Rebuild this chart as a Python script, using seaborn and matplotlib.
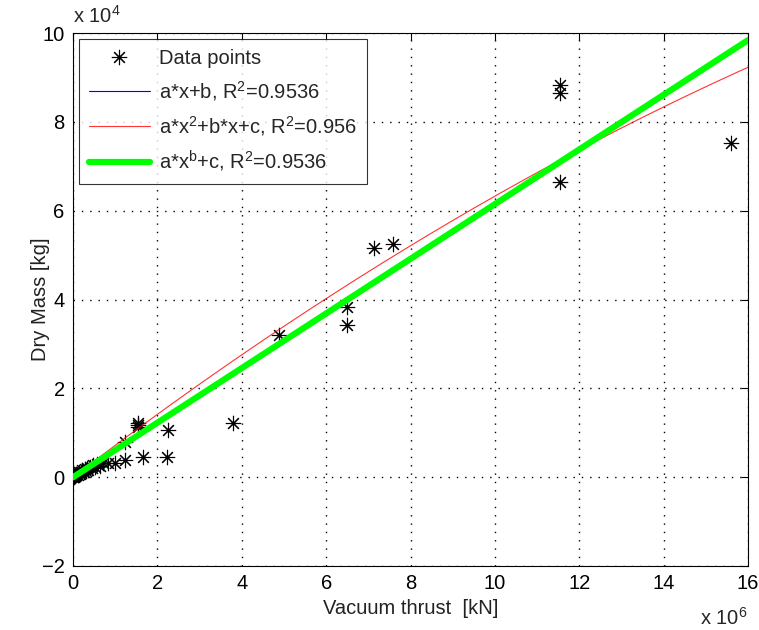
import numpy as np
import pandas as pd
import matplotlib
matplotlib.use("Agg")
import matplotlib.pyplot as plt
import seaborn as sns
from matplotlib.ticker import FixedLocator, FuncFormatter

# ---- data (vacuum thrust in N, dry mass in kg) ----
thrust = np.array([
    0.01, 0.02, 0.03, 0.04, 0.05, 0.06, 0.08, 0.10, 0.12, 0.14, 0.16, 0.18,
    0.20, 0.22, 0.25, 0.28, 0.30, 0.33, 0.36, 0.40, 0.44, 0.48, 0.52, 0.58,
    0.64, 0.70, 0.83, 1.00, 1.23, 1.23, 1.54, 1.54, 1.54, 1.66, 2.23, 2.25,
    3.79, 4.88, 6.49, 6.49, 7.13, 7.58, 11.54, 11.54, 11.54, 15.60]) * 1e6
drymass = np.array([
    0.00, 0.03, 0.01, 0.05, 0.02, 0.06, 0.04, 0.08, 0.05, 0.11, 0.07, 0.12,
    0.10, 0.15, 0.12, 0.18, 0.14, 0.20, 0.17, 0.24, 0.20, 0.27, 0.24, 0.30,
    0.26, 0.32, 0.32, 0.32, 0.38, 0.79, 1.22, 1.17, 1.12, 0.45, 0.45, 1.06,
    1.22, 3.20, 3.83, 3.42, 5.16, 5.25, 8.83, 8.65, 6.64, 7.52]) * 1e4

# fit coefficients
lin_coef = [6.13e-3, -50.0]                 # a*x+b
quad_coef = [-9.33e-11, 7.26e-3, 0.0]       # a*x^2+b*x+c
pow_coef = [6.05e-3, 1.001, -20.0]          # a*x^b+c

x_ticks = [0, 2, 4, 6, 8, 10, 12, 14, 16]
y_ticks = [-2, 0, 2, 4, 6, 8, 10]

labels = ["Data points",
          r"a*x+b, R$^2$=0.9536",
          r"a*x$^2$+b*x+c, R$^2$=0.956",
          r"a*x$^b$+c, R$^2$=0.9536"]

sns.set_style("white")
plt.rcParams["font.family"] = ["Liberation Sans", "DejaVu Sans"]
plt.rcParams["mathtext.fontset"] = "custom"
plt.rcParams["mathtext.rm"] = "Liberation Sans"
plt.rcParams["mathtext.it"] = "Liberation Sans"

FS = 14.5

fig = plt.figure(figsize=(7.59, 6.30), dpi=100)
ax = fig.add_axes([0.0962, 0.1016, 0.8893, 0.8460])

xs = np.linspace(0, 16e6, 400)
fits = pd.DataFrame({
    "x": xs,
    "lin": np.polyval(lin_coef, xs),
    "quad": np.polyval(quad_coef, xs),
    "pow": pow_coef[0] * xs ** pow_coef[1] + pow_coef[2],
})
pts = pd.DataFrame({"thrust": thrust, "drymass": drymass})

ax.plot(pts["thrust"], pts["drymass"], linestyle="none", marker=(8, 2, 0),
        markersize=11, markeredgewidth=0.8, color="black", label=labels[0], zorder=3)
sns.lineplot(data=fits, x="x", y="lin", ax=ax, color="#0000ff", linewidth=0.8,
             label=labels[1], zorder=4)
sns.lineplot(data=fits, x="x", y="quad", ax=ax, color="#ff0000", linewidth=0.8,
             alpha=0.8, label=labels[2], zorder=4)
sns.lineplot(data=fits, x="x", y="pow", ax=ax, color="#00ff00", linewidth=4.5,
             label=labels[3], zorder=5)

ax.set_xlim(0, 16e6)
ax.set_ylim(-2e4, 10e4)
ax.xaxis.set_major_locator(FixedLocator([t * 1e6 for t in x_ticks]))
ax.yaxis.set_major_locator(FixedLocator([t * 1e4 for t in y_ticks]))
ax.xaxis.set_major_formatter(FuncFormatter(lambda v, p: f"{v / 1e6:g}"))
ax.yaxis.set_major_formatter(FuncFormatter(lambda v, p: f"{v / 1e4:g}".replace("-", "\u2212")))

ax.grid(True, color="black", linestyle=(0, (1, 5)), linewidth=1.0)
for s in ax.spines.values():
    s.set_color("black")
    s.set_linewidth(0.8)
ax.tick_params(direction="in", length=5, width=0.8, top=True, right=True,
               labelsize=FS, pad=6, colors="black")

ax.set_xlabel("Vacuum thrust  [kN]", fontsize=FS, color="#222222")
ax.set_ylabel("Dry Mass [kg]", fontsize=FS, color="#222222")
ax.yaxis.set_label_coords(-0.034, 0.5)
ax.xaxis.set_label_coords(0.5, -0.062)
ax.xaxis.label.set_va("top")

ax.text(0.0, 1.012, r"x 10$^4$", transform=ax.transAxes, fontsize=FS,
        ha="left", va="bottom")
ax.text(1.0, -0.077, r"x 10$^6$", transform=ax.transAxes, fontsize=FS,
        ha="right", va="top")

leg = ax.legend(loc="upper left", bbox_to_anchor=(0.0, 1.0), fontsize=FS,
                frameon=True, fancybox=False, edgecolor="black",
                handlelength=3.0, handletextpad=0.45, borderpad=0.5,
                labelspacing=0.55, borderaxespad=0.3)
leg.get_frame().set_linewidth(0.8)

fig.savefig("out.png", dpi=100, facecolor="white")
